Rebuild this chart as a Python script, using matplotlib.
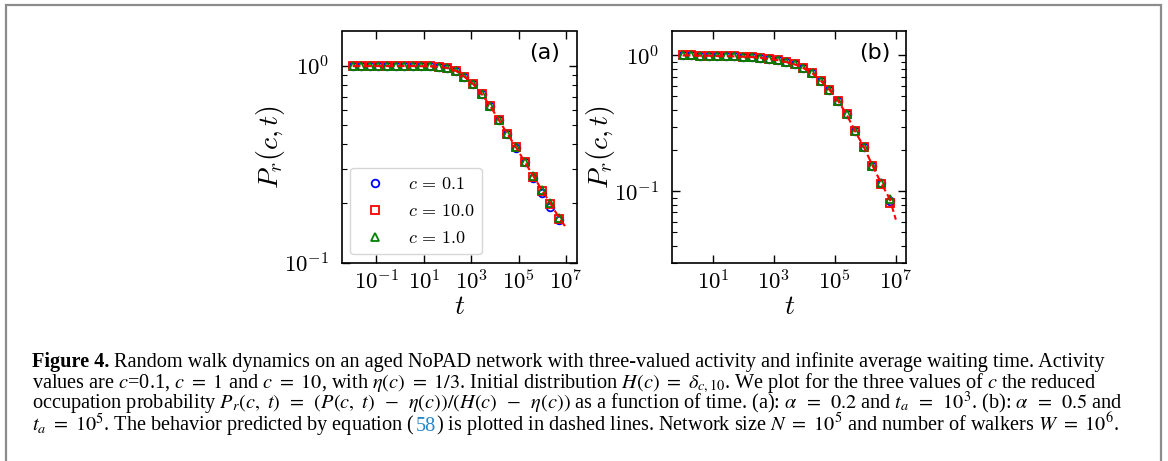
import matplotlib
matplotlib.use("Agg")
import matplotlib.pyplot as plt
from matplotlib.patches import Rectangle
from matplotlib.ticker import NullLocator, NullFormatter

plt.rcParams['mathtext.fontset'] = 'cm'
plt.rcParams['font.family'] = 'DejaVu Sans'

# ---- panel (a): alpha = 0.2, t_a = 1e3 ----
t_a = [0.01, 0.023, 0.053, 0.122, 0.281, 0.646, 1.49, 3.43, 7.89, 18.2, 41.9,
       96.4, 222, 511, 1180, 2710, 6240, 14400, 33100, 76200, 175000, 404000,
       929000, 2140000, 4930000]
pa_c01 = [1.0, 1.0, 1.0, 1.0, 1.0, 1.0, 1.0, 1.0, 0.999, 0.997, 0.993, 0.977,
          0.946, 0.882, 0.810, 0.721, 0.626, 0.531, 0.450, 0.385, 0.325, 0.270,
          0.225, 0.192, 0.165]
pa_c10 = [1.0, 1.0, 1.0, 1.0, 1.0, 1.0, 1.0, 1.0, 0.999, 0.997, 0.993, 0.977,
          0.946, 0.882, 0.810, 0.721, 0.626, 0.531, 0.451, 0.386, 0.326, 0.274,
          0.232, 0.198, 0.167]
pa_c1 = [1.0, 1.0, 1.0, 1.0, 1.0, 1.0, 1.0, 1.0, 0.999, 0.997, 0.993, 0.977,
         0.946, 0.882, 0.810, 0.721, 0.626, 0.531, 0.451, 0.386, 0.326, 0.276,
         0.234, 0.200, 0.169]
theory_t_a = t_a + [1e7]
theory_a = pa_c1 + [0.150]

# ---- panel (b): alpha = 0.5, t_a = 1e5 ----
t_b = [1, 1.92, 3.69, 7.08, 13.6, 26.1, 50.1, 96.2, 185, 355, 681, 1310, 2510,
       4820, 9260, 17800, 34100, 65500, 126000, 242000, 464000, 891000,
       1710000, 3290000, 6310000]
pb_c01 = [1.0, 1.0, 0.995, 0.995, 0.989, 0.989, 0.984, 0.978, 0.973, 0.962,
          0.946, 0.925, 0.894, 0.859, 0.807, 0.742, 0.652, 0.560, 0.465, 0.368,
          0.276, 0.212, 0.155, 0.115, 0.085]
pb_c10 = [1.0, 1.0, 0.995, 0.995, 0.989, 0.989, 0.984, 0.978, 0.973, 0.962,
          0.946, 0.925, 0.894, 0.859, 0.807, 0.742, 0.652, 0.560, 0.465, 0.368,
          0.276, 0.212, 0.155, 0.114, 0.082]
pb_c1 = [1.0, 1.0, 0.995, 0.995, 0.989, 0.989, 0.984, 0.978, 0.973, 0.962,
         0.946, 0.925, 0.894, 0.859, 0.807, 0.742, 0.652, 0.560, 0.465, 0.368,
         0.276, 0.212, 0.155, 0.115, 0.088]
theory_t_b = t_b + [1e7]
theory_b = pb_c1 + [0.062]

labels = [r'$c\,=\,0.1$', r'$c\,=\,10.0$', r'$c\,=\,1.0$']

W, H = 1168, 461
fig = plt.figure(figsize=(W / 100, H / 100), dpi=100)

# outer caption frame, runs off the bottom of the picture
fig.patches.append(Rectangle((5.5 / W, -0.05), (1161 - 5.5) / W, 1 - 5.5 / H + 0.05,
                             transform=fig.transFigure, fill=False,
                             edgecolor='#8c8c8c', lw=1.6, clip_on=False))


def panel(rect, t, ys, tt, ty, ylim, xticks, xlabels, yticks, ylabels, tag, legend):
    ax = fig.add_axes(rect)
    ms, mew = 5.5, 1.3
    ax.plot(t, ys[0], 'o', mfc='none', mec='b', ms=ms, mew=mew, label=labels[0])
    ax.plot(t, ys[1], 's', mfc='none', mec='r', ms=ms, mew=mew, label=labels[1])
    ax.plot(t, ys[2], '^', mfc='none', mec='g', ms=ms, mew=mew, label=labels[2])
    ax.plot(tt, ty, 'r--', lw=1.5)
    ax.set_xscale('log')
    ax.set_yscale('log')
    ax.set_ylim(*ylim)
    ax.set_xticks(xticks)
    ax.set_xticklabels(xlabels)
    ax.xaxis.set_minor_locator(NullLocator())
    ax.set_yticks(yticks)
    ax.set_yticklabels(ylabels)
    ax.yaxis.set_minor_formatter(NullFormatter())
    ax.tick_params(which='both', direction='in', top=True, right=True, labelsize=16.5)
    ax.tick_params(which='major', length=6, width=1)
    ax.tick_params(which='minor', length=3.5, width=0.8)
    ax.tick_params(axis='y', pad=9)
    ax.tick_params(axis='x', pad=5.5)
    for s in ax.spines.values():
        s.set_linewidth(1.2)
    ax.set_xlabel(r'$t$', fontsize=20, labelpad=-2)
    ax.set_ylabel(r'$P_r(c,t)$', fontsize=20, labelpad=-2)
    ax.text(0.864, 0.905, tag, transform=ax.transAxes, fontsize=16,
            ha='center', va='center')
    if legend:
        ax.legend(loc='lower left', fontsize=13, borderaxespad=0.45)
    return ax


panel([342 / W, 1 - 262.5 / H, 235 / W, 231 / H], t_a, [pa_c01, pa_c10, pa_c1],
      theory_t_a, theory_a, (0.1, 1.5),
      [1e-1, 1e1, 1e3, 1e5, 1e7],
      [r'$10^{-1}$', r'$10^{1}$', r'$10^{3}$', r'$10^{5}$', r'$10^{7}$'],
      [0.1, 1.0], [r'$10^{-1}$', r'$10^{0}$'], '(a)', True)
panel([672 / W, 1 - 262.5 / H, 234.5 / W, 231 / H], t_b, [pb_c01, pb_c10, pb_c1],
      theory_t_b, theory_b, (0.03, 1.5),
      [1e1, 1e3, 1e5, 1e7],
      [r'$10^{1}$', r'$10^{3}$', r'$10^{5}$', r'$10^{7}$'],
      [0.1, 1.0], [r'$10^{-1}$', r'$10^{0}$'], '(b)', False)

# ---- caption ----
cap = dict(family='Liberation Serif', size=14.6, math_fontfamily='stix',
           va='baseline', ha='left')
renderer = fig.canvas.get_renderer()


def put(x, y, s, **kw):
    opts = dict(cap)
    opts.update(kw)
    t = fig.text(x / W, 1 - y / H, s, **opts)
    return t.get_window_extent(renderer).x1


x0 = 32.5
base = [366.5, 388, 409.5, 431]

xr = put(x0, base[0], 'Figure 4.', weight='bold')
put(xr + 4, base[0], 'Random walk dynamics on an aged NoPAD network with three-valued '
    'activity and infinite average waiting time. Activity')
put(x0, base[1], r'values are $c$=0.1, $c\ =\ 1$ and $c\ =\ 10$, with $\eta(c)\ =\ 1/3$. '
    r'Initial distribution $H(c)\ =\ \delta_{c,10}$. We plot for the three values of $c$ '
    'the reduced')
put(x0, base[2], r'occupation probability $P_r(c,\ t)\ \,=\ \,(P(c,\ t)\ \,-\ \,\eta(c))/'
    r'(H(c)\ \,-\ \,\eta(c))$ as a function of time. (a): $\alpha\ \,=\ \,0.2$ and '
    r'$t_a\ \,=\ \,10^3$. (b): $\alpha\ \,=\ \,0.5$ and')
xr = put(x0, base[3], r'$t_a\ =\ 10^5$. The behavior predicted by equation (')
xr = put(xr, base[3], '58', color='#2586c7')
put(xr, base[3], r') is plotted in dashed lines. Network size $N\ =\ 10^5$ and number '
    r'of walkers $W\ =\ 10^6$.')

fig.savefig('out.png', dpi=100)
